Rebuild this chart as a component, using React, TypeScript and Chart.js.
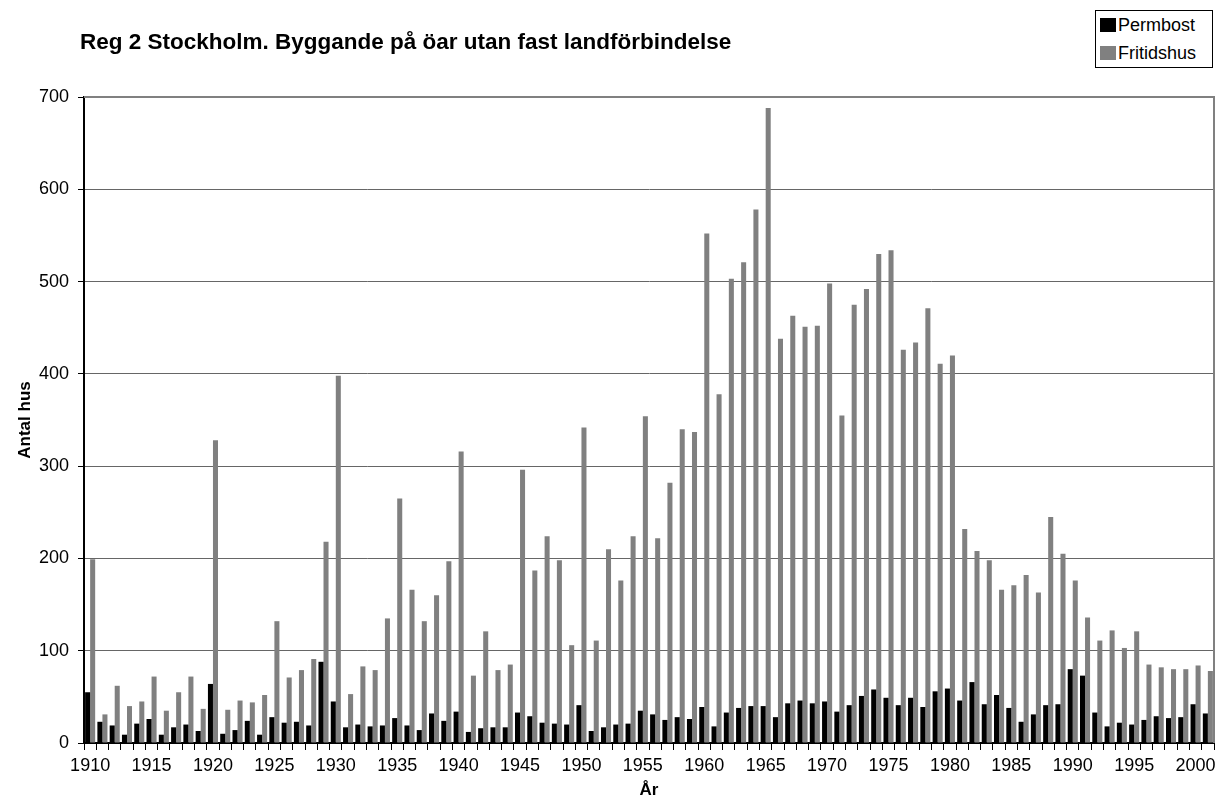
import React, { useEffect, useRef } from "react";
import { Chart, registerables } from "chart.js";

Chart.register(...registerables);

const years = [
  "1910","1911","1912","1913","1914","1915","1916","1917","1918","1919",
  "1920","1921","1922","1923","1924","1925","1926","1927","1928","1929",
  "1930","1931","1932","1933","1934","1935","1936","1937","1938","1939",
  "1940","1941","1942","1943","1944","1945","1946","1947","1948","1949",
  "1950","1951","1952","1953","1954","1955","1956","1957","1958","1959",
  "1960","1961","1962","1963","1964","1965","1966","1967","1968","1969",
  "1970","1971","1972","1973","1974","1975","1976","1977","1978","1979",
  "1980","1981","1982","1983","1984","1985","1986","1987","1988","1989",
  "1990","1991","1992","1993","1994","1995","1996","1997","1998","1999",
  "2000","2001",
];

const permbost = [
  55, 23, 19, 9, 21, 26, 9, 17, 20, 13,
  64, 10, 14, 24, 9, 28, 22, 23, 19, 88,
  45, 17, 20, 18, 19, 27, 19, 14, 32, 24,
  34, 12, 16, 17, 17, 33, 29, 22, 21, 20,
  41, 13, 17, 20, 21, 35, 31, 25, 28, 26,
  39, 18, 33, 38, 40, 40, 28, 43, 46, 43,
  45, 34, 41, 51, 58, 49, 41, 49, 39, 56,
  59, 46, 66, 42, 52, 38, 23, 31, 41, 42,
  80, 73, 33, 18, 22, 20, 25, 29, 27, 28,
  42, 32,
];

const fritidshus = [
  199, 31, 62, 40, 45, 72, 35, 55, 72, 37,
  328, 36, 46, 44, 52, 132, 71, 79, 91, 218,
  398, 53, 83, 79, 135, 265, 166, 132, 160, 197,
  316, 73, 121, 79, 85, 296, 187, 224, 198, 106,
  342, 111, 210, 176, 224, 354, 222, 282, 340, 337,
  552, 378, 503, 521, 578, 688, 438, 463, 451, 452,
  498, 355, 475, 492, 530, 534, 426, 434, 471, 411,
  420, 232, 208, 198, 166, 171, 182, 163, 245, 205,
  176, 136, 111, 122, 103, 121, 85, 82, 80, 80,
  84, 78,
];

const labeledYears = [
  "1910","1915","1920","1925","1930","1935","1940","1945","1950",
  "1955","1960","1965","1970","1975","1980","1985","1990","1995","2000",
];

const seriesNames = ["Permbost", "Fritidshus"];
const seriesColors = ["#000000", "#808080"];

const yMin = 0;
const yMax = 700;
const yStep = 100;

const FONT = "Arial, 'Liberation Sans', sans-serif";

const framePlugin = {
  id: "frame",
  beforeDatasetsDraw(chart: any) {
    const { ctx, chartArea } = chart;
    ctx.save();
    ctx.strokeStyle = "#808080";
    ctx.lineWidth = 2;
    ctx.beginPath();
    ctx.moveTo(chartArea.left, chartArea.top);
    ctx.lineTo(chartArea.right, chartArea.top);
    ctx.lineTo(chartArea.right, chartArea.bottom);
    ctx.stroke();
    ctx.restore();
  },
};

export default function App() {
  const ref = useRef<HTMLCanvasElement>(null);

  useEffect(() => {
    document.body.style.margin = "0";
    const chart = new Chart(ref.current as HTMLCanvasElement, {
      type: "bar",
      data: {
        labels: years,
        datasets: [
          {
            label: seriesNames[0],
            data: permbost,
            backgroundColor: seriesColors[0],
            categoryPercentage: 0.82,
            barPercentage: 1,
          },
          {
            label: seriesNames[1],
            data: fritidshus,
            backgroundColor: seriesColors[1],
            categoryPercentage: 0.82,
            barPercentage: 1,
          },
        ],
      },
      options: {
        animation: false,
        responsive: false,
        maintainAspectRatio: false,
        layout: { padding: { top: 97, right: 4, left: 0, bottom: 0 } },
        plugins: {
          legend: { display: false },
          title: { display: false },
          tooltip: { enabled: false },
        },
        scales: {
          x: {
            grid: {
              offset: true,
              drawOnChartArea: false,
              drawTicks: true,
              tickLength: 7,
              color: "#000000",
            },
            border: { color: "#000000", width: 2 },
            ticks: {
              autoSkip: false,
              maxRotation: 0,
              minRotation: 0,
              padding: 5,
              color: "#000000",
              font: { family: FONT, size: 18 },
              callback: (_v: any, i: number) =>
                labeledYears.includes(years[i]) ? years[i] : "",
            },
            title: {
              display: true,
              text: "År",
              color: "#000000",
              font: { family: FONT, size: 17, weight: "bold" },
              padding: { top: 2, bottom: 8 },
            },
            afterFit: (s: any) => {
              s.height = 66;
            },
          },
          y: {
            min: yMin,
            max: yMax,
            ticks: {
              stepSize: yStep,
              color: "#000000",
              padding: 9,
              font: { family: FONT, size: 18 },
            },
            grid: {
              color: "#666666",
              tickColor: "#000000",
              tickLength: 6,
              lineWidth: 1,
            },
            border: { color: "#000000", width: 2 },
            title: {
              display: true,
              text: "Antal hus",
              color: "#000000",
              font: { family: FONT, size: 17, weight: "bold" },
              padding: { top: 15, bottom: 2 },
            },
            afterFit: (s: any) => {
              s.width = 84;
            },
          },
        },
      } as any,
      plugins: [framePlugin],
    });
    return () => chart.destroy();
  }, []);

  return (
    <div
      style={{
        position: "relative",
        width: 1218,
        height: 809,
        overflow: "hidden",
        background: "#fff",
        fontFamily: FONT,
      }}
    >
      <canvas ref={ref} width={1218} height={809} style={{ display: "block" }} />
      <div
        style={{
          position: "absolute",
          left: 80,
          top: 29,
          fontSize: 22.5,
          fontWeight: "bold",
          color: "#000",
          whiteSpace: "nowrap",
          lineHeight: "26px",
        }}
      >
        Reg 2 Stockholm. Byggande på öar utan fast landförbindelse
      </div>
      <div
        style={{
          position: "absolute",
          left: 1095,
          top: 10,
          width: 118,
          border: "1px solid #000",
          padding: "0 0 0 4px",
          fontSize: 18,
          color: "#000",
          lineHeight: "28px",
          boxSizing: "border-box",
          background: "#fff",
        }}
      >
        {seriesNames.map((name, i) => (
          <div key={name} style={{ display: "flex", alignItems: "center" }}>
            <span
              style={{
                display: "inline-block",
                width: 16,
                height: 14,
                background: seriesColors[i],
                marginRight: 2,
              }}
            />
            <span>{name}</span>
          </div>
        ))}
      </div>
    </div>
  );
}
